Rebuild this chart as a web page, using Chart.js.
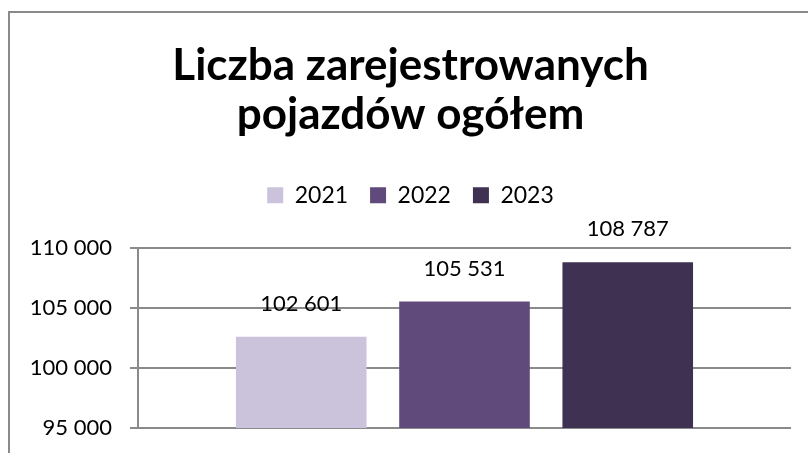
<!DOCTYPE html>
<html>
<head>
<meta charset="utf-8">
<script src="https://cdn.jsdelivr.net/npm/chart.js@4/dist/chart.umd.min.js"></script>
<style>
  html, body { margin: 0; padding: 0; background: #fff; }
  #wrap { width: 808px; height: 453px; position: relative; }
</style>
</head>
<body>
<div id="wrap"><canvas id="chart"></canvas></div>
<script>
// values
const categories = [''];
const years = ['2021', '2022', '2023'];
const vehicles = [102601, 105531, 108787];
const barColors = ['#CBC2DB', '#604A7B', '#3F3151'];
const yMin = 95000, yMax = 110000, yStep = 5000;

const FONT = 'Lato, Calibri, "Liberation Sans", sans-serif';
const GRAY = '#8a8a8a';

const fmt = v => String(v).replace(/\B(?=(\d{3})+(?!\d))/g, ' ');

// outer frame of the chart object (right and bottom are cut off in the picture)
const framePlugin = {
  id: 'frame',
  beforeDraw(chart) {
    const ctx = chart.ctx;
    ctx.save();
    ctx.fillStyle = '#fff';
    ctx.fillRect(0, 0, chart.width, chart.height);
    ctx.strokeStyle = GRAY;
    ctx.lineWidth = 2;
    ctx.strokeRect(9, 12, chart.width + 20, chart.height + 20);
    ctx.restore();
  }
};

// value labels above the bars
const valueLabels = {
  id: 'valueLabels',
  afterDatasetsDraw(chart) {
    const ctx = chart.ctx;
    ctx.save();
    ctx.font = '22px ' + FONT;
    ctx.fillStyle = '#000';
    ctx.textAlign = 'center';
    ctx.textBaseline = 'bottom';
    chart.data.datasets.forEach((ds, i) => {
      chart.getDatasetMeta(i).data.forEach((bar, j) => {
        ctx.fillText(fmt(ds.data[j]), bar.x, bar.y - 22);
      });
    });
    ctx.restore();
  }
};

new Chart(document.getElementById('chart'), {
  type: 'bar',
  data: {
    labels: categories,
    datasets: years.map((y, i) => ({
      label: y,
      data: [vehicles[i]],
      backgroundColor: barColors[i],
      categoryPercentage: 0.75,
      barPercentage: 0.8
    }))
  },
  options: {
    responsive: true,
    maintainAspectRatio: false,
    animation: false,
    layout: { padding: { left: 30, right: 17, top: 42, bottom: 25 } },
    plugins: {
      title: {
        display: true,
        text: ['Liczba zarejestrowanych', 'pojazdów ogółem'],
        color: '#000',
        font: { family: FONT, size: 44, weight: 'bold', lineHeight: 1.1 },
        padding: { top: 0, bottom: 23 }
      },
      legend: {
        display: true,
        position: 'top',
        labels: {
          color: '#000',
          font: { family: FONT, size: 23 },
          boxWidth: 16,
          boxHeight: 16,
          padding: 22
        }
      },
      tooltip: { enabled: false }
    },
    scales: {
      x: {
        // sits on top of the plot only to leave room for the value labels
        position: 'top',
        afterFit(scale) { scale.height = 31; },
        grid: { display: false, drawTicks: false },
        border: { display: false },
        ticks: { display: false }
      },
      y: {
        min: yMin,
        max: yMax,
        afterFit(scale) {
          scale.width = 108;
          // label padding is horizontal only here
          scale.paddingTop = 0;
          scale.paddingBottom = 0;
        },
        ticks: {
          stepSize: yStep,
          color: '#000',
          padding: 18,
          font: { family: FONT, size: 22 },
          callback: v => fmt(v)
        },
        grid: { color: GRAY, lineWidth: 2, tickLength: 8 },
        border: { display: true, color: GRAY, width: 2 }
      }
    }
  },
  plugins: [framePlugin, valueLabels]
});
</script>
</body>
</html>
